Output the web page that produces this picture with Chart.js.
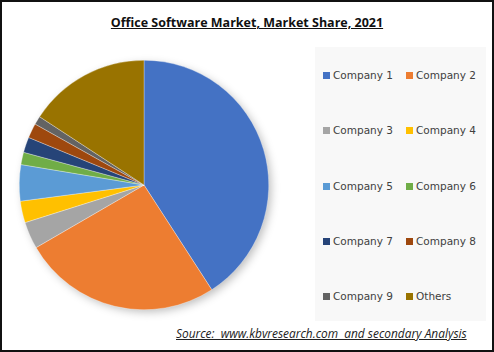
<!DOCTYPE html>
<html lang="en">
<head>
<meta charset="UTF-8">
<title>Office Software Market, Market Share, 2021</title>
<style>
    body { margin: 0; background: #fff; }
    .frame {
        position: relative;
        width: 494px;
        height: 352px;
        box-sizing: border-box;
        border: 2px solid #111;
        background: #fff;
        overflow: hidden;
    }
    .title {
        position: absolute;
        left: 0; right: 0; top: 12px;
        text-align: center;
        font-family: "Open Sans", sans-serif;
        font-weight: bold;
        font-size: 12.5px;
        color: #111;
        text-decoration: underline;
    }
    .pieBox {
        position: absolute;
        left: 2px; top: 43px;
        width: 280px; height: 280px;
    }
    .legendPanel {
        position: absolute;
        left: 313px; top: 45px;
        width: 171px; height: 274px;
        background: #f8f8f8;
    }
    .legItem {
        position: absolute;
        font-family: "DejaVu Sans", sans-serif;
        font-size: 10.5px;
        color: #404040;
        white-space: nowrap;
        line-height: 12px;
    }
    .legItem i {
        display: inline-block;
        width: 7px; height: 7px;
        margin-right: 3px;
        vertical-align: 0px;
    }
    .source {
        position: absolute;
        left: 174px; top: 323px;
        font-family: "Open Sans", sans-serif;
        font-style: italic;
        font-size: 11.9px;
        color: #222;
        text-decoration: underline;
        white-space: pre;
    }
</style>
</head>
<body>
<div class="frame">
    <div class="title">Office Software Market, Market Share, 2021</div>
    <div class="pieBox"><canvas id="pie" width="280" height="280"></canvas></div>
    <div class="legendPanel" id="legend"></div>
    <div class="source">Source:  www.kbvresearch.com  and secondary Analysis</div>
</div>

<script src="https://cdn.jsdelivr.net/npm/chart.js"></script>
<script>
    // values (percent share)
    const companies = ['Company 1', 'Company 2', 'Company 3', 'Company 4', 'Company 5',
                       'Company 6', 'Company 7', 'Company 8', 'Company 9', 'Others'];
    const shares = [40.9, 25.8, 3.5, 2.8, 4.7, 1.6, 2.0, 1.9, 1.1, 15.8];
    const colors = ['#4472C4', '#ED7D31', '#A5A5A5', '#FFC000', '#5B9BD5',
                    '#70AD47', '#264478', '#9E480E', '#636363', '#997300'];

    // soft shadow under the pie
    const pieShadow = {
        id: 'pieShadow',
        beforeDatasetsDraw(chart) {
            const arc = chart.getDatasetMeta(0).data[0];
            if (!arc) return;
            const ctx = chart.ctx;
            ctx.save();
            ctx.shadowColor = 'rgba(0,0,0,0.28)';
            ctx.shadowBlur = 10;
            ctx.shadowOffsetX = 3;
            ctx.shadowOffsetY = 3;
            ctx.fillStyle = '#fff';
            ctx.beginPath();
            ctx.arc(arc.x, arc.y, arc.outerRadius - 1, 0, Math.PI * 2);
            ctx.fill();
            ctx.restore();
        }
    };

    new Chart(document.getElementById('pie'), {
        type: 'pie',
        data: {
            labels: companies,
            datasets: [{
                data: shares,
                backgroundColor: colors,
                borderColor: 'rgba(255,255,255,0.6)',
                borderWidth: 0.5
            }]
        },
        options: {
            responsive: false,
            animation: false,
            layout: { padding: 15 },
            plugins: {
                legend: { display: false },
                tooltip: { enabled: false }
            }
        },
        plugins: [pieShadow]
    });

    // legend, two columns, row by row
    const legend = document.getElementById('legend');
    companies.forEach((name, i) => {
        const item = document.createElement('div');
        item.className = 'legItem';
        item.style.left = (i % 2 == 0 ? 8 : 91) + 'px';
        item.style.top = (22 + Math.floor(i / 2) * 55.3) + 'px';
        item.innerHTML = '<i style="background:' + colors[i] + '"></i>' + name;
        legend.appendChild(item);
    });
</script>
</body>
</html>
